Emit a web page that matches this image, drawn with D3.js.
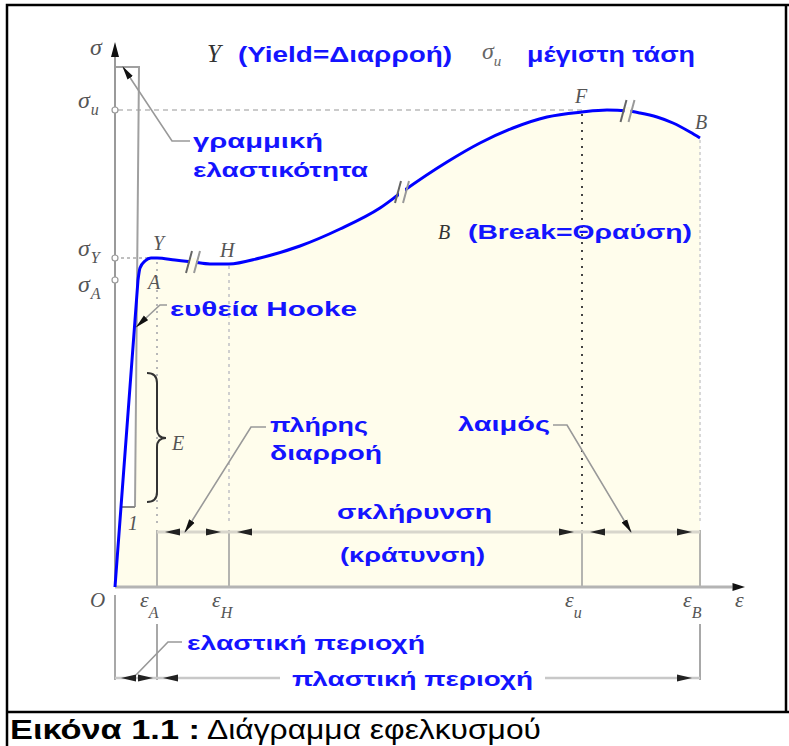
<!DOCTYPE html>
<html>
<head>
<meta charset="utf-8">
<script src="https://cdn.jsdelivr.net/npm/d3@7"></script>
<style>
  html, body { margin: 0; padding: 0; background: #fff; }
  svg { display: block; }
</style>
</head>
<body>
<svg id="chart" width="789" height="746"></svg>
<script>
// Tension test: stress–strain curve of a ductile metal (schematic units)
const strain = [0, 0.92, 1.0, 1.2, 1.44, 1.68, 2.4, 3.12, 3.8, 4.56, 5.8, 7.4, 9.0, 10.6,
                11.48, 13.28, 14.6, 15.92, 17.28, 18.68, 19.68, 20.52, 21.0, 21.68, 22.32, 23.0, 23.4];
const stress = [0, 307, 319, 326, 329, 329, 327, 325, 323, 323, 329, 341, 358, 379,
                395, 425, 444, 459, 470, 475, 477, 476, 474, 470, 464, 455, 449];

// characteristic strains on the ε axis
const strainMarks = [1.68, 4.56, 18.68, 23.4];
const strainSubs  = ["A", "H", "u", "B"];

// characteristic stresses on the σ axis
const stressMarks = [477, 329, 307];
const stressSubs  = ["u", "Y", "A"];

// named points on the curve
const pointNames  = ["A", "Y", "H", "F", "B"];
const pointStrain = [0.92, 1.68, 4.56, 18.68, 23.4];

// axis-break symbols drawn on the curve
const breakStrain = [3.12, 11.48, 20.5];

const svg = d3.select("#chart");
const x = d3.scaleLinear().domain([0, 25]).range([115, 740]);
const y = d3.scaleLinear().domain([0, 545]).range([587, 42]);

const curveData = strain.map((e, i) => [e, stress[i]]);
const stressAt = e => {
  const i = Math.max(1, Math.min(strain.length - 1, d3.bisectLeft(strain, e)));
  const t = (e - strain[i - 1]) / (strain[i] - strain[i - 1]);
  return stress[i - 1] + t * (stress[i] - stress[i - 1]);
};

const BLUE = "#1414ff";
const GREY_TXT = "#555";
const sans = "'Liberation Sans', Arial, sans-serif";
const serif = "'Liberation Serif', 'Times New Roman', serif";

// arrowhead marker for the leader lines
const defs = svg.append("defs");
defs.append("marker").attr("id", "arr")
  .attr("viewBox", "0 -4 14 8").attr("refX", 13).attr("refY", 0)
  .attr("markerUnits", "userSpaceOnUse").attr("markerWidth", 14).attr("markerHeight", 8)
  .attr("orient", "auto")
  .append("path").attr("d", "M0,-3.2L14,0L0,3.2Z").attr("fill", "#111");

// ---------- frame ----------
svg.append("path")
  .attr("d", "M7,746 V5 H789 M786,5 V712 M7,712 H789")
  .attr("fill", "none").attr("stroke", "#000").attr("stroke-width", 2.5);

// ---------- area under the curve (straight Hooke segment, smooth afterwards) ----------
const smooth = d3.line().x(d => x(d[0])).y(d => y(d[1])).curve(d3.curveMonotoneX);
const curvePath = `M${x(strain[0])},${y(stress[0])} L` + smooth(curveData.slice(1)).slice(1);
const areaPath = curvePath + ` L${x(strain[strain.length - 1])},${y(0)} Z`;
svg.append("path").attr("d", areaPath).attr("fill", "#fffdec");

// slope triangle of the Hooke region (kept clear)
const slopeTop = 520, slopeBot = 80;
svg.append("path")
  .attr("d", `M${x(0)},${y(slopeTop)} L${x(0.96)},${y(slopeTop)} L${x(0.8)},${y(slopeBot)} L${x(0)},${y(slopeBot)}Z`)
  .attr("fill", "#fff");

// ---------- reference lines ----------
// σu level
svg.append("line")
  .attr("x1", x(0.12)).attr("x2", x(strainMarks[2])).attr("y1", y(stressMarks[0])).attr("y2", y(stressMarks[0]))
  .attr("stroke", "#bbb").attr("stroke-width", 1.5).attr("stroke-dasharray", "5,4");
// σY level
svg.append("line")
  .attr("x1", x(0)).attr("x2", x(strainMarks[0])).attr("y1", y(stressMarks[1])).attr("y2", y(stressMarks[1]))
  .attr("stroke", "#aaa").attr("stroke-width", 1.5).attr("stroke-dasharray", "3,3");

// dimension row height (in stress units inside the plot)
const dimStress = 55;
const dotStyles = [
  { c: "#b8b8b8", d: "2,5" },
  { c: "#cfcfcf", d: "3,4" },
  { c: "#444",    d: "2,6" },
  { c: "#d8d8d8", d: "3,3" }
];
const dotTops = [y(stressMarks[1]) + 4, y(stressAt(strainMarks[1])) + 2, y(stressAt(strainMarks[2])) + 2, y(stressAt(strainMarks[3])) + 2];
strainMarks.forEach((e, i) => {
  svg.append("line")
    .attr("x1", x(e)).attr("x2", x(e)).attr("y1", dotTops[i]).attr("y2", y(dimStress) - 8)
    .attr("stroke", dotStyles[i].c).attr("stroke-width", 2).attr("stroke-dasharray", dotStyles[i].d);
  svg.append("line")
    .attr("x1", x(e)).attr("x2", x(e)).attr("y1", y(dimStress) - 2).attr("y2", y(0))
    .attr("stroke", "#b4b4b0").attr("stroke-width", 2);
});

// slope triangle outline
svg.append("path")
  .attr("d", `M${x(0)},${y(slopeTop)} L${x(0.96)},${y(slopeTop)} L${x(0.8)},${y(slopeBot)}`)
  .attr("fill", "none").attr("stroke", "#a0a0a0").attr("stroke-width", 2);
svg.append("line")
  .attr("x1", x(0.24)).attr("x2", x(0.8)).attr("y1", y(slopeBot)).attr("y2", y(slopeBot))
  .attr("stroke", "#888").attr("stroke-width", 2);

// brace for E
const bx = x(1.68), bt = y(214), bb = y(85), bm = y(149);
svg.append("path")
  .attr("d", `M${bx - 10},${bt} Q${bx},${bt} ${bx},${bt + 10} L${bx},${bm - 9} Q${bx},${bm} ${bx + 9},${bm}
              Q${bx},${bm} ${bx},${bm + 9} L${bx},${bb - 10} Q${bx},${bb} ${bx - 10},${bb}`)
  .attr("fill", "none").attr("stroke", "#333").attr("stroke-width", 2);

// ---------- axes ----------
svg.append("line").attr("x1", x(0)).attr("x2", x(0)).attr("y1", y(0)).attr("y2", y(530))
  .attr("stroke", "#9a9a9a").attr("stroke-width", 2);
svg.append("path").attr("d", `M${x(0)},${y(545)} L${x(0) + 4},${y(530)} L${x(0) - 4},${y(530)}Z`).attr("fill", "#111");
svg.append("line").attr("x1", x(0)).attr("x2", x(24.7)).attr("y1", y(0)).attr("y2", y(0))
  .attr("stroke", "#b4b4b4").attr("stroke-width", 3);
svg.append("path").attr("d", `M${x(25.2)},${y(0)} L${x(24.7)},${y(0) - 4} L${x(24.7)},${y(0) + 4}Z`).attr("fill", "#111");

stressMarks.forEach(s => {
  svg.append("circle").attr("cx", x(0)).attr("cy", y(s)).attr("r", 3)
    .attr("fill", "#fff").attr("stroke", "#999").attr("stroke-width", 1.2);
});

// ---------- the curve ----------
svg.append("path").attr("d", curvePath)
  .attr("fill", "none").attr("stroke", "#0000ff").attr("stroke-width", 3).attr("stroke-linejoin", "round");

// axis-break symbols
breakStrain.forEach(e => {
  const px = x(e), py = y(stressAt(e));
  svg.append("rect").attr("x", px - 3).attr("y", py - 4).attr("width", 6).attr("height", 8).attr("fill", "#fffdec");
  [-4, 4].forEach((o, k) => {
    svg.append("line")
      .attr("x1", px + o + 3).attr("y1", py - 11).attr("x2", px + o - 3).attr("y2", py + 11)
      .attr("stroke", k ? "#999" : "#666").attr("stroke-width", 2);
  });
});

// ---------- dimension lines ----------
function dimArrow(xTip, yv, dir) {
  const L = 15, h = 3.6;
  svg.append("path")
    .attr("d", `M${xTip},${yv} L${xTip + dir * L},${yv - h} L${xTip + dir * L},${yv + h}Z`)
    .attr("fill", "#222");
}
const dimY = y(dimStress);
[[0, 1], [1, 2], [2, 3]].forEach(([a, b]) => {
  svg.append("line").attr("x1", x(strainMarks[a])).attr("x2", x(strainMarks[b])).attr("y1", dimY).attr("y2", dimY)
    .attr("stroke", "#d8d6cc").attr("stroke-width", 3);
  dimArrow(x(strainMarks[a]) + 8, dimY, 1);
  dimArrow(x(strainMarks[b]) - 8, dimY, -1);
});

// rows below the ε axis
const rowY = y(0) + 91;
svg.append("line").attr("x1", x(0)).attr("x2", x(0)).attr("y1", y(0) + 8).attr("y2", rowY + 2)
  .attr("stroke", "#a8a8a8").attr("stroke-width", 2);
[0, 3].forEach(i => {
  svg.append("line").attr("x1", x(strainMarks[i])).attr("x2", x(strainMarks[i])).attr("y1", y(0) + 37).attr("y2", rowY + 2)
    .attr("stroke", "#a8a8a8").attr("stroke-width", 2);
});
svg.append("line").attr("x1", x(0)).attr("x2", x(strainMarks[0])).attr("y1", rowY).attr("y2", rowY)
  .attr("stroke", "#c8c8c8").attr("stroke-width", 2.5);
svg.append("line").attr("x1", x(strainMarks[0])).attr("x2", 280).attr("y1", rowY).attr("y2", rowY)
  .attr("stroke", "#c8c8c8").attr("stroke-width", 2.5);
svg.append("line").attr("x1", 545).attr("x2", x(strainMarks[3])).attr("y1", rowY).attr("y2", rowY)
  .attr("stroke", "#c8c8c8").attr("stroke-width", 2.5);
dimArrow(x(0) + 6, rowY, 1);
dimArrow(x(strainMarks[0]) - 4, rowY, -1);
dimArrow(x(strainMarks[0]) + 6, rowY, 1);
dimArrow(x(strainMarks[3]) - 8, rowY, -1);

// ---------- leader lines ----------
function leader(pts, arrow) {
  const p = svg.append("path").attr("d", d3.line()(pts))
    .attr("fill", "none").attr("stroke", "#999").attr("stroke-width", 1.6);
  if (arrow) p.attr("marker-end", "url(#arr)");
}
leader([[190, 141], [172, 141], [123, 67]], true);
leader([[167, 305], [160, 305], [x(0.78) + 2, y(0.78 * stress[1] / strain[1])]], true);
leader([[266, 427], [251, 427], [185, dimY]], true);
leader([[553, 425], [567, 425], [631, dimY]], true);
leader([[182, 642], [168, 642], [136, rowY - 3]], false);

// ---------- text ----------
function blue(t, x0, yb, len, size) {
  svg.append("text").attr("x", x0).attr("y", yb).text(t)
    .attr("font-family", sans).attr("font-weight", "bold").attr("font-size", size || 21)
    .attr("fill", BLUE).attr("textLength", len).attr("lengthAdjust", "spacingAndGlyphs");
}
function sym(main, sub, x0, yb, opts) {
  const o = Object.assign({ size: 22, subSize: 16, dy: 9, dx: 0, fill: GREY_TXT }, opts || {});
  const t = svg.append("text").attr("x", x0).attr("y", yb)
    .attr("font-family", serif).attr("font-style", "italic").attr("font-size", o.size).attr("fill", o.fill);
  t.append("tspan").text(main);
  if (sub) t.append("tspan").attr("dx", o.dx).attr("dy", o.dy).attr("font-size", o.subSize).text(sub);
  return t;
}

// title line
sym("Y", null, 207, 62, { size: 25, fill: "#333" });
blue("(Yield=Διαρροή)", 238, 62, 214, 22);
sym("σ", "u", 482, 59, { size: 24, subSize: 15, dy: 7, fill: "#666" });
blue("μέγιστη τάση", 527, 62, 168, 22);

// σ axis labels (σA sits below its mark)
sym("σ", null, 90, 55, { size: 24 });
const stressLabelShift = [-2, -2, 12];
stressMarks.forEach((s, i) => {
  sym("σ", stressSubs[i], 78, y(s) + stressLabelShift[i], { size: 24, subSize: 16, dy: 7, dx: 1 });
});

// ε axis labels
sym("O", null, 90, y(0) + 20, { size: 21 });
strainMarks.forEach((e, i) => {
  sym("ε", strainSubs[i], x(e) - 17, y(0) + 20, { size: 22, subSize: 16, dy: 11 });
});
sym("ε", null, 735, y(0) + 20, { size: 22 });

// points on the curve
const ptOffsets = [[10, 9], [-4, -8], [-9, -7], [-7, -9], [-5, -9]];
pointNames.forEach((n, i) => {
  const e = pointStrain[i];
  sym(n, null, x(e) + ptOffsets[i][0], y(stressAt(e)) + ptOffsets[i][1], { size: 20 });
});
sym("E", null, 172, 450, { size: 20 });
sym("1", null, 128, 530, { size: 20 });
sym("B", null, 438, 239, { size: 20, fill: "#333" });

// annotations
blue("γραμμική", 193, 148, 130);
blue("ελαστικότητα", 193, 177, 175);
blue("ευθεία Hooke", 170, 316, 187);
blue("(Break=Θραύση)", 468, 239, 224);
blue("πλήρης", 270, 432, 98);
blue("διαρροή", 270, 460, 112);
blue("λαιμός", 458, 431, 92);
blue("σκλήρυνση", 337, 519, 155);
blue("(κράτυνση)", 340, 562, 145);
blue("ελαστική περιοχή", 187, 650, 238);
blue("πλαστική περιοχή", 292, 686, 241);

// caption
svg.append("text").attr("x", 10).attr("y", 739)
  .attr("font-family", sans).attr("font-weight", "bold").attr("font-size", 27).attr("fill", "#000")
  .attr("textLength", 190).attr("lengthAdjust", "spacingAndGlyphs").text("Εικόνα 1.1 :");
svg.append("text").attr("x", 207).attr("y", 739)
  .attr("font-family", sans).attr("font-size", 27).attr("fill", "#000")
  .attr("textLength", 334).attr("lengthAdjust", "spacingAndGlyphs").text("Διάγραμμα εφελκυσμού");
</script>
</body>
</html>
